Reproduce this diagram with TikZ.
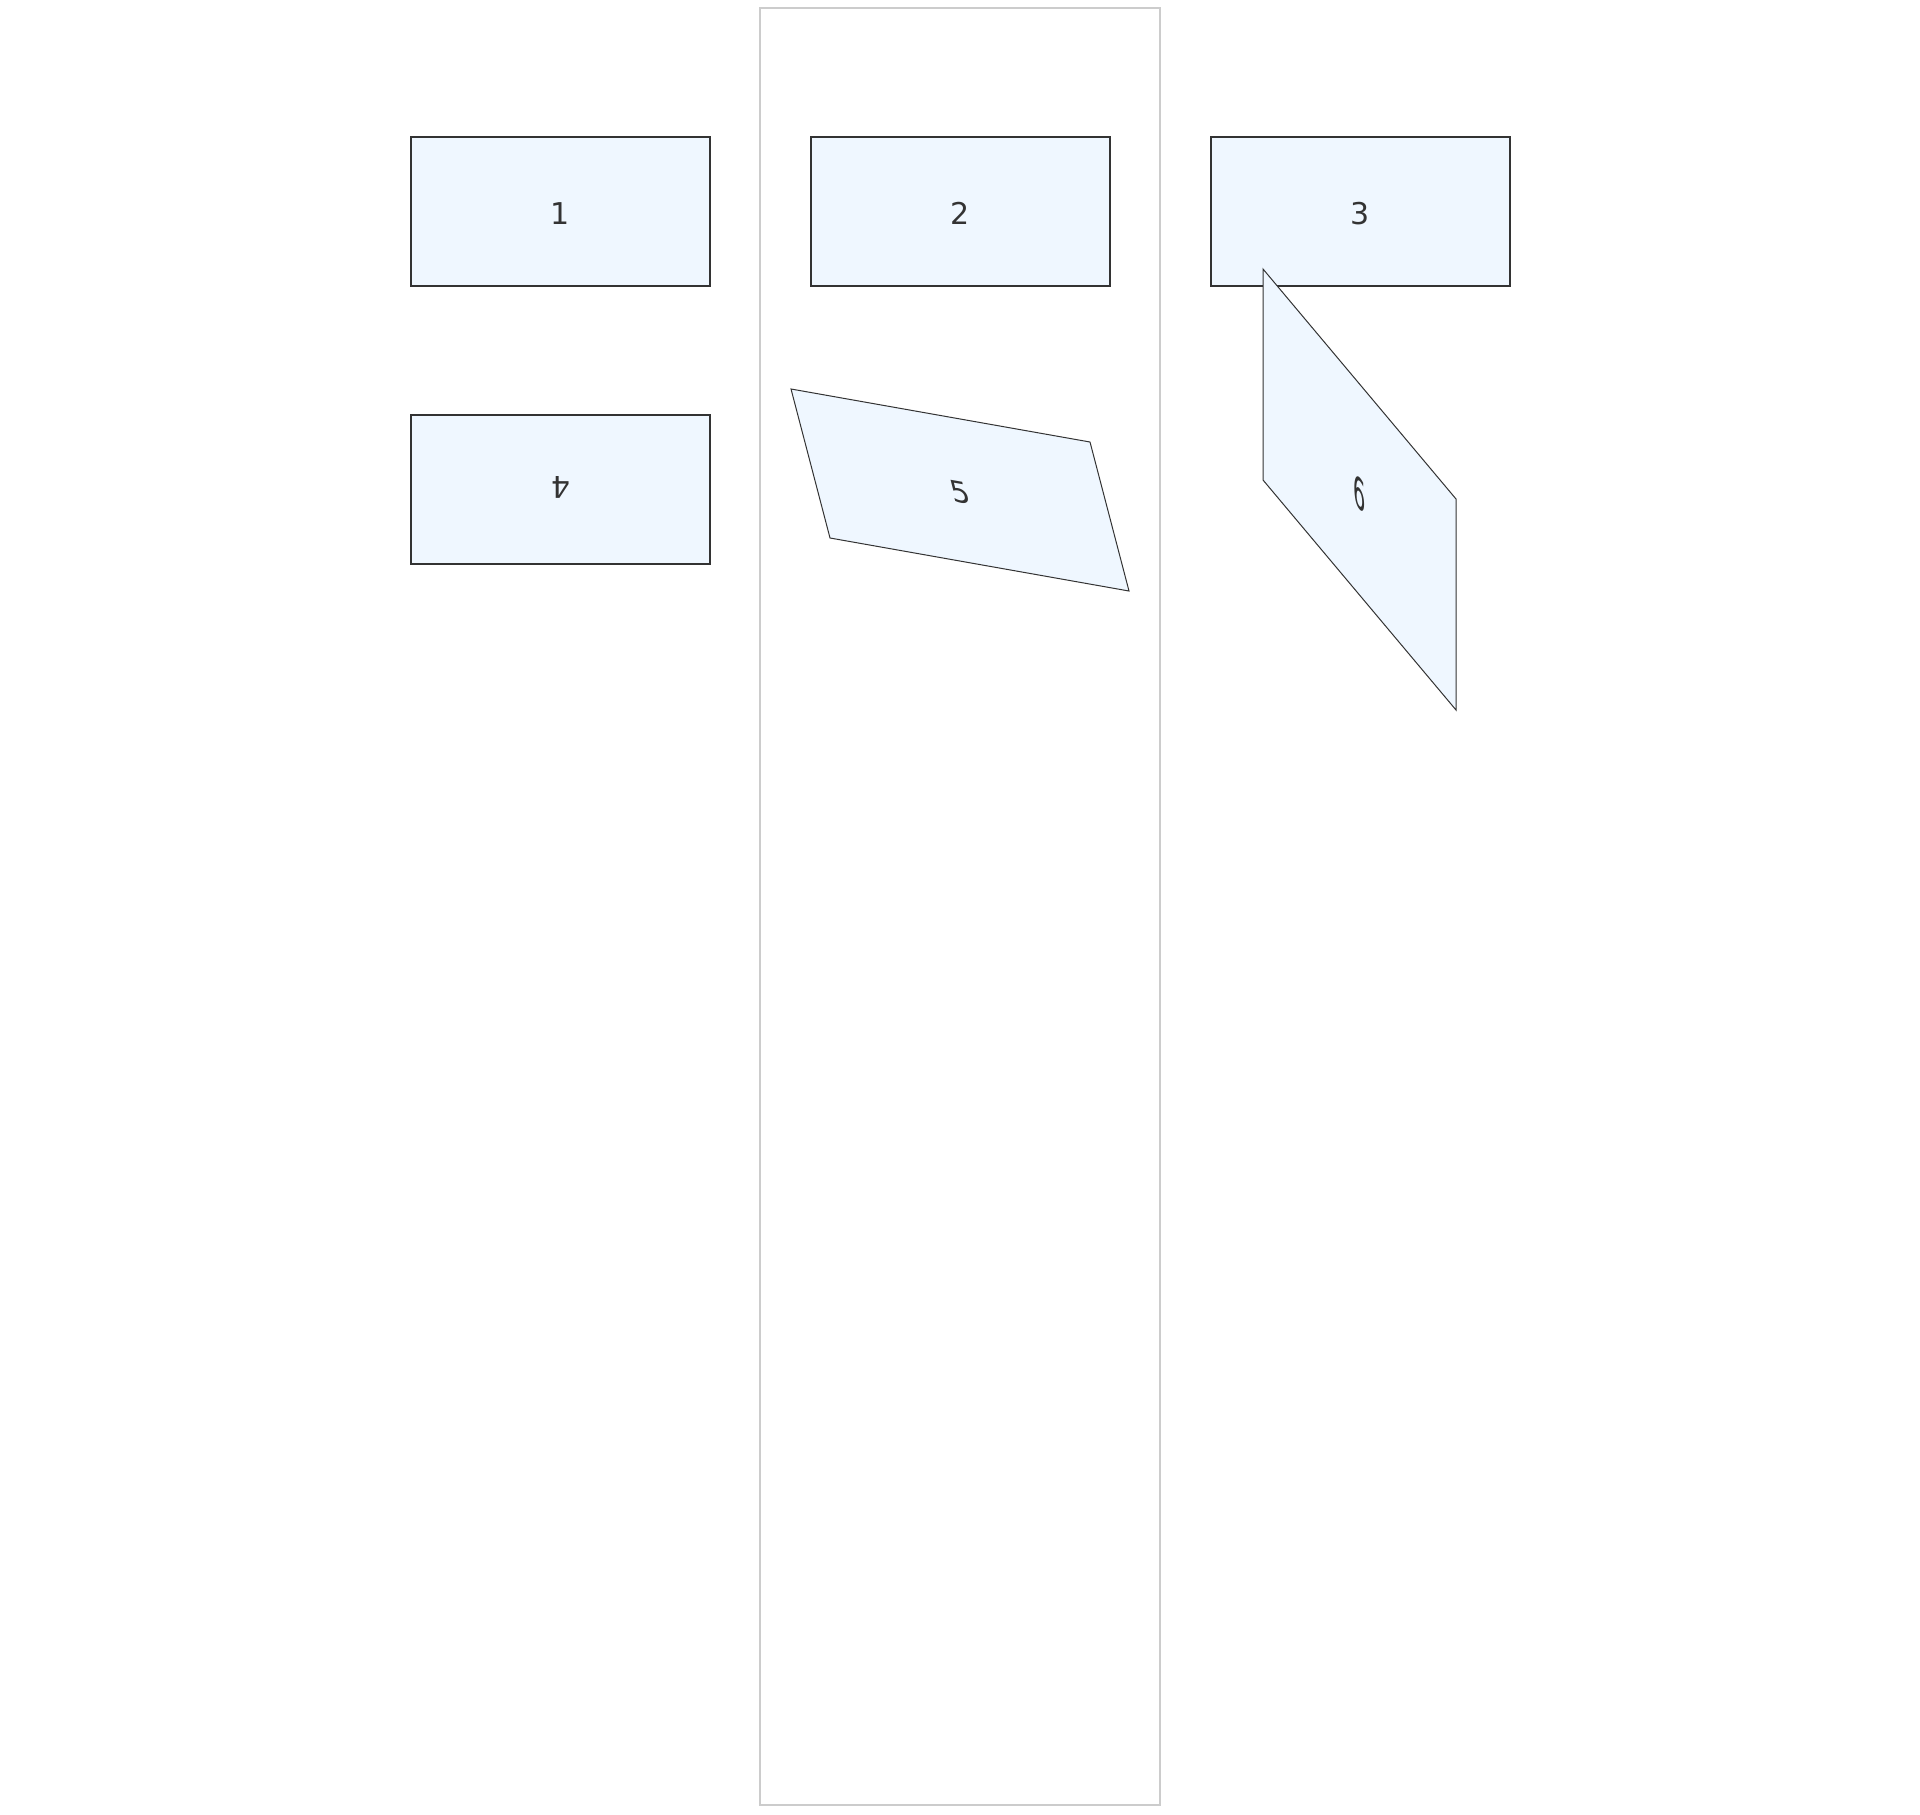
\documentclass[tikz,border=0pt]{standalone}
\usepackage{fontspec}
\setmainfont{DejaVu Sans}
\definecolor{boxfill}{HTML}{EFF7FF}
\definecolor{boxline}{HTML}{333333}
\definecolor{colline}{HTML}{CCCCCC}
\tikzset{
  cellbox/.style={draw=boxline, fill=boxfill, line width=0.65pt,
    minimum width=149.5pt, minimum height=74.5pt, inner sep=0pt,
    text height=14pt, text depth=0.6pt,
    text=boxline, font=\fontsize{15pt}{18pt}\selectfont},
  thinbox/.style={cellbox, line width=0.5pt},
  lane/.style={draw=colline, line width=0.65pt}
}
\begin{document}
\begin{tikzpicture}[x=0.5pt,y=-0.5pt]
\useasboundingbox (0,0) rectangle (1920,1814);
% middle lane
\draw[lane] (760,8) rectangle (1160,1805);
% top row
\node[cellbox] (b1) at (560.5,211.5) {1};
\node[cellbox] (b2) at (960.5,211.5) {2};
\node[cellbox] (b3) at (1360.5,211.5) {3};
% second row
\node[cellbox, rotate=180] (b4) at (560.5,489.5) {4};
\begin{scope}[shift={(960,490)}, cm={1,-0.1773,-0.2617,1,(0,0)}]
  \node[thinbox, transform shape] (b5) at (0,0) {5};
\end{scope}
\begin{scope}[shift={(1359.5,489.5)}, cm={0.6455,-0.7692,0,1.4161,(0,0)}]
  \node[thinbox, transform shape] (b6) at (0,0) {6};
\end{scope}
\end{tikzpicture}
\end{document}
